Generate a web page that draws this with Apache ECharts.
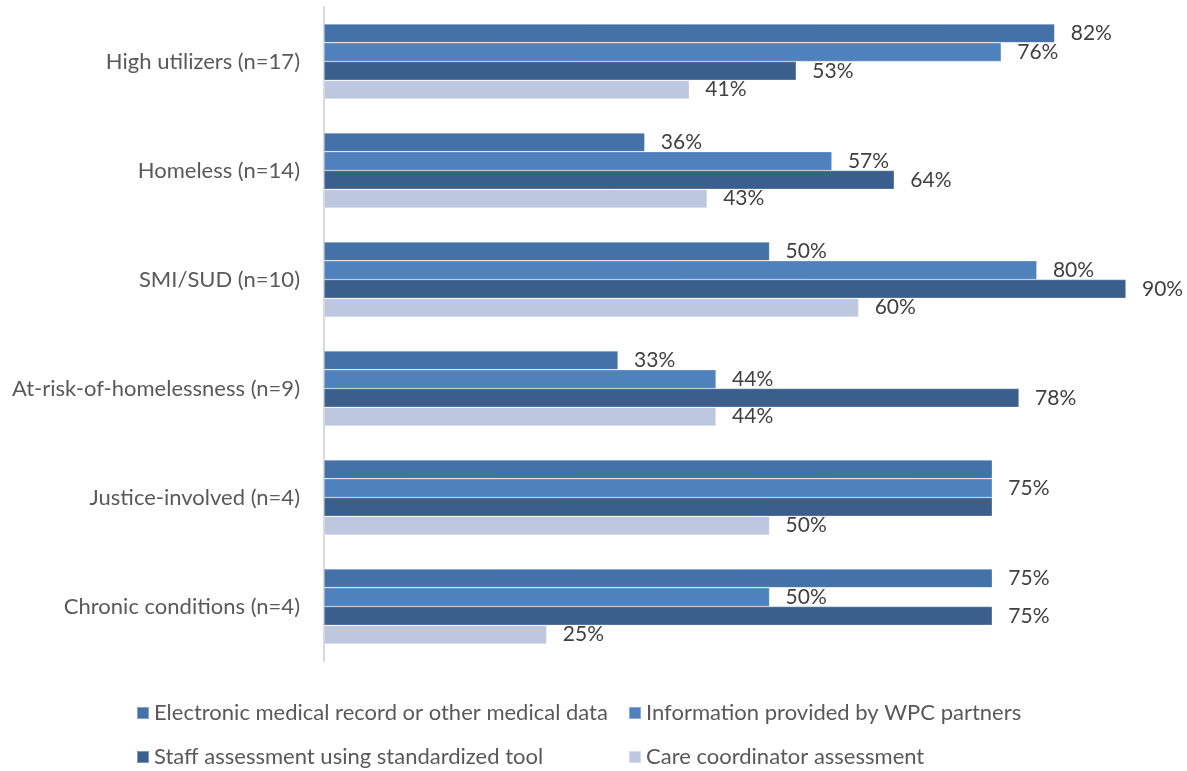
<!DOCTYPE html>
<html>
<head>
<meta charset="utf-8">
<script src="https://cdn.jsdelivr.net/npm/echarts@6/dist/echarts.min.js"></script>
<style>
  html, body { margin: 0; padding: 0; background: #fff; }
  #chart { width: 1187px; height: 771px; }
</style>
</head>
<body>
<div id="chart"></div>
<script>
// categories (top to bottom)
var categories = ['High utilizers (n=17)', 'Homeless (n=14)', 'SMI/SUD (n=10)',
  'At-risk-of-homelessness (n=9)', 'Justice-involved (n=4)', 'Chronic conditions (n=4)'];

var seriesNames = ['Electronic medical record or other medical data', 'Information provided by WPC partners',
  'Staff assessment using standardized tool', 'Care coordinator assessment'];

// percent values per series
var emrData = [82, 36, 50, 33, 75, 75];
var partnerData = [76, 57, 80, 44, 75, 50];
var staffData = [53, 64, 90, 78, 75, 75];
var careData = [41, 43, 60, 44, 50, 25];

// labels the original leaves out (overlapping ones): [seriesIndex, categoryIndex]
var hiddenLabels = [[0, 4], [2, 4]];

var colors = ['#4472a8', '#4f81bd', '#3a5f8d', '#bdc8e0'];
var FONT = 'Lato';

function buildData(values, si) {
  return values.map(function (v, ci) {
    var hide = hiddenLabels.some(function (h) { return h[0] === si && h[1] === ci; });
    return hide ? { value: v, label: { show: false } } : v;
  });
}

var allData = [emrData, partnerData, staffData, careData];
var series = allData.map(function (vals, i) {
  return {
    name: seriesNames[i],
    type: 'bar',
    data: buildData(vals, i),
    barGap: '0%',
    barCategoryGap: '31%',
    itemStyle: { color: colors[i], borderColor: 'rgba(255,255,255,0.35)', borderWidth: 0.7 },
    label: {
      show: true,
      position: 'right',
      distance: 16,
      formatter: '{c}%',
      color: '#404040',
      fontFamily: FONT,
      fontSize: 21
    }
  };
});

var legendBase = {
  orient: 'vertical',
  top: 700,
  height: 71,
  itemWidth: 12,
  itemHeight: 12,
  itemGap: 18,
  padding: 0,
  icon: 'rect',
  textStyle: { color: '#595959', fontFamily: FONT, fontSize: 22, lineHeight: 26 }
};

var chart = echarts.init(document.getElementById('chart'));
chart.setOption({
  animation: false,
  grid: { left: 324, top: 7, width: 802, height: 654 },
  xAxis: {
    type: 'value',
    min: 0,
    max: 90,
    show: false
  },
  yAxis: {
    type: 'category',
    data: categories,
    inverse: true,
    axisLine: { show: true, lineStyle: { color: '#d9d9d9', width: 2 } },
    axisTick: { show: false },
    axisLabel: { margin: 24, color: '#595959', fontFamily: FONT, fontSize: 22 }
  },
  legend: [
    Object.assign({ data: [seriesNames[0], seriesNames[2]], left: 136 }, legendBase),
    Object.assign({ data: [seriesNames[1], seriesNames[3]], left: 628 }, legendBase)
  ],
  series: series
});
</script>
</body>
</html>
